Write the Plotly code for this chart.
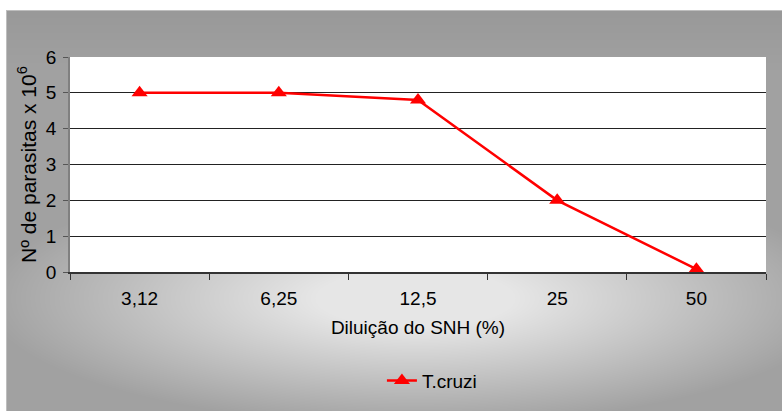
import base64, struct, zlib
import numpy as np
import plotly.graph_objects as go

categories = ["3,12", "6,25", "12,5", "25", "50"]
tcruzi = [5.0, 5.0, 4.8, 2.0, 0.08]
series_name = "T.cruzi"

W, H = 782, 411
ML, MR, MT, MB = 70, 16, 57, 139
PW, PH = W - ML - MR, H - MT - MB

# background gradient image (frame from x=6,y=10 to the page edge)
BX0, BY0 = 6, 10
iw, ih = W - BX0, H - BY0
yy, xx = np.mgrid[0:ih, 0:iw].astype(float)
xx += BX0
yy += BY0
r = np.sqrt((xx - 415) ** 2 + ((yy - 298) * 3.4) ** 2)
f = np.clip(1.3 - 0.003 * r, 0, 1)
top = np.clip((yy - 10) / 60.0, 0, 1) * 8
v = 153 + 77 * f + top * (1 - f)
v[0, :] = 190
v[:, 0] = 190
v = np.clip(v, 0, 255).astype(np.uint8)
rgb = np.stack([v, v, v], axis=-1)
raw = b"".join(b"\x00" + rgb[i].tobytes() for i in range(ih))


def chunk(t, d):
    c = struct.pack(">I", len(d)) + t + d
    return c + struct.pack(">I", zlib.crc32(t + d) & 0xFFFFFFFF)


png = b"\x89PNG\r\n\x1a\n" + chunk(b"IHDR", struct.pack(">IIBBBBB", iw, ih, 8, 2, 0, 0, 0)) \
    + chunk(b"IDAT", zlib.compress(raw, 9)) + chunk(b"IEND", b"")
src = "data:image/png;base64," + base64.b64encode(png).decode()

font = "Liberation Sans, Arial, sans-serif"

fig = go.Figure()
fig.add_trace(go.Scatter(
    x=categories, y=tcruzi, name=series_name, mode="lines+markers",
    line=dict(color="#ff0000", width=2.5),
    marker=dict(symbol="triangle-up", size=14, color="#ff0000"),
    showlegend=True,
))

fig.add_layout_image(dict(
    source=src, xref="paper", yref="paper",
    x=(BX0 - ML) / PW, y=1 + (MT - BY0) / PH,
    sizex=iw / PW, sizey=ih / PH, sizing="stretch",
    xanchor="left", yanchor="top", layer="below",
))
# white plot area above the background image, below the grid
fig.add_shape(type="rect", xref="x domain", yref="y domain", x0=0, x1=1, y0=0, y1=1,
              fillcolor="white", line=dict(width=0), layer="below")

fig.update_layout(
    width=W, height=H,
    margin=dict(l=ML, r=MR, t=MT, b=MB),
    paper_bgcolor="white", plot_bgcolor="white",
    font=dict(family=font, size=18, color="#000000"),
    showlegend=True,
    legend=dict(orientation="h", x=0.52, y=-0.505, xanchor="center", yanchor="middle",
                bgcolor="rgba(0,0,0,0)", font=dict(size=19)),
    xaxis=dict(
        type="category", range=[-0.5, 4.5], tickson="boundaries",
        ticks="outside", ticklen=6, tickcolor="#333333", tickwidth=1,
        showline=True, linecolor="#333333", linewidth=1.5,
        showgrid=False, ticklabelstandoff=8,
        title=dict(text="Diluição do SNH (%)", standoff=13, font=dict(size=19)),
        tickfont=dict(size=19),
    ),
    yaxis=dict(
        range=[0, 6], dtick=1, ticks="outside", ticklen=5, tickcolor="#555555",
        showline=True, linecolor="#808080", linewidth=1.5,
        showgrid=True, gridcolor="#222222", gridwidth=1,
        zeroline=False, tickfont=dict(size=19), ticklabelstandoff=3,
        title=dict(text="Nº de parasitas x 10<sup>6</sup>", standoff=4, font=dict(size=21)),
    ),
)

fig.write_html("out.html")
